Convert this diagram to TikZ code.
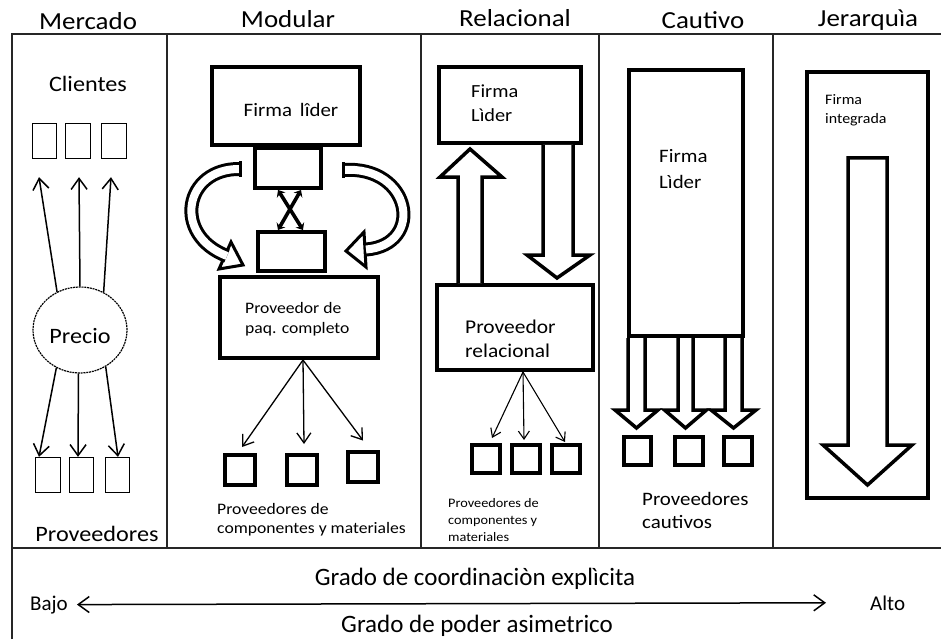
\documentclass[tikz,border=0pt]{standalone}
\usepackage{fontspec}
\setmainfont{Carlito}[FakeStretch=1.1]
\newfontfamily\botfont{Carlito}
\usetikzlibrary{arrows.meta,shapes.geometric}
\tikzset{
  colline/.style={line width=1.4pt, draw=black!85},
  thinbox/.style={draw, line width=1.3pt, inner sep=0pt},
  thickbox/.style={draw, line width=4pt, inner sep=0pt, fill=white},
  blockarrow/.style={draw, line width=3.5pt, fill=white, line join=miter},
  hdr/.style={anchor=base, font=\fontsize{24.5}{28}\selectfont, inner sep=0pt},
  lbl/.style={anchor=base west, inner sep=0pt},
  clbl/.style={anchor=base, inner sep=0pt},
  merarrow/.style={line width=1.5pt, -{Straight Barb[length=11pt,width=16pt]}},
  modarrow/.style={line width=1.3pt, -{Straight Barb[length=10pt,width=14pt]}},
  relarrow/.style={line width=1.1pt, -{Straight Barb[length=8pt,width=11pt]}},
  crossarrow/.style={line width=3.6pt, {Stealth[length=6pt,width=10pt]}-{Stealth[length=6pt,width=10pt]}},
  curveband/.style={line width=3pt, double=white, double distance=8pt},
  headtri/.style={draw, line width=3pt, fill=white, line join=miter},
  pics/blockdown/.style n args={4}{code={
    \draw[blockarrow] (-#1,0) -- (-#1,#3) -- (-#2,#3) -- (0,#4) -- (#2,#3) -- (#1,#3) -- (#1,0);}},
}
\begin{document}
\begin{tikzpicture}[x=1pt,y=-1pt]
\useasboundingbox (0,0) rectangle (941,639);
\fill[white] (0,0) rectangle (941,639);

% frame and columns
\draw[colline] (12,639) -- (12,34) -- (941,34);
\draw[colline] (12,548) -- (941,548);
\foreach \xx in {167,421,599,773} \draw[colline] (\xx,34) -- (\xx,548);

% headers
\node[hdr] (hMer) at (88,30) {Mercado};
\node[hdr] (hMod) at (288,28) {Modular};
\node[hdr] (hRel) at (515,27) {Relacional};
\node[hdr] (hCau) at (703,29) {Cautivo};
\node[hdr] (hJer) at (868,27) {Jerarquìa};

% ---------- Mercado ----------
\node[clbl, font=\fontsize{22}{26}\selectfont] (cli) at (88,92) {Clientes};
\node[thinbox, minimum width=24pt, minimum height=35pt] (ct1) at (44.5,141) {};
\node[thinbox, minimum width=25pt, minimum height=35pt] (ct2) at (78,141) {};
\node[thinbox, minimum width=25pt, minimum height=35pt] (ct3) at (114,141) {};
\node[draw, ellipse, line width=1.2pt, dash pattern=on 2pt off 0.8pt, minimum width=94pt, minimum height=86pt, inner sep=0pt] (precio) at (80,330) {};
\node[clbl, font=\fontsize{22}{26}\selectfont] (preciot) at (80,343) {Precio};
\node[thinbox, minimum width=25pt, minimum height=35pt] (pb1) at (48,475) {};
\node[thinbox, minimum width=24pt, minimum height=35pt] (pb2) at (81.5,475) {};
\node[thinbox, minimum width=24pt, minimum height=35pt] (pb3) at (117.5,475) {};
\node[clbl, font=\fontsize{22}{26}\selectfont] (prov) at (97,541) {Proveedores};
\draw[merarrow] (precio.121) -- ([xshift=-5.5pt,yshift=-18pt]ct1.south);
\draw[merarrow] (precio.north) -- ([xshift=1pt,yshift=-18pt]ct2.south);
\draw[merarrow] (precio.58) -- ([xshift=-3pt,yshift=-18pt]ct3.south);
\draw[merarrow] (precio.-122) -- ([xshift=-9pt]pb1.north);
\draw[merarrow] (precio.-92) -- ([xshift=-3.5pt]pb2.north);
\draw[merarrow] (precio.-55) -- ([xshift=0.5pt]pb3.north);

% ---------- Modular ----------
\draw[headtri] (231,242) -- (243,265) -- (219,269) -- cycle;
\draw[curveband] (240,169) .. controls (184,168) and (172,235) .. (227,256);
\draw[line width=3pt] (240,161.5) -- (240,176.5);
\draw[headtri] (364,232) -- (346,251) -- (366,267) -- cycle;
\draw[curveband] (343,170) .. controls (412,165) and (425,245) .. (366,249.5);
\draw[line width=3pt] (343,162.5) -- (343,177.5);

\node[thickbox, minimum width=66pt, minimum height=40pt] (ubox) at (288,168) {};
\node[thickbox, minimum width=67pt, minimum height=39pt] (lbox) at (291.5,251) {};
\node[thickbox, minimum width=148pt, minimum height=78pt] (firmaM) at (286,106) {};
\node[clbl, font=\fontsize{19}{23}\selectfont] (firmaMt) at (291,117) {Firma\, lîder};
\node[thickbox, minimum width=158pt, minimum height=81pt] (provM) at (299,317.5) {};
\node[lbl, font=\fontsize{16}{20}\selectfont] (provMa) at (245,313) {Proveedor de};
\node[lbl, font=\fontsize{16}{20}\selectfont] (provMb) at (245,333) {paq. completo};
\coordinate (xa) at (278,190);
\coordinate (xb) at (303,230);
\coordinate (xc) at (301,190);
\coordinate (xd) at (278,230);
\draw[crossarrow] (xa) -- (xb);
\draw[crossarrow] (xc) -- (xd);

\node[thickbox, minimum width=30pt, minimum height=30pt] (mb1) at (240,470) {};
\node[thickbox, minimum width=30pt, minimum height=30pt] (mb2) at (301.5,470) {};
\node[thickbox, minimum width=30pt, minimum height=30pt] (mb3) at (362.5,466.5) {};
\draw[modarrow] ([xshift=4pt]provM.south) -- ([xshift=2pt,yshift=6pt]mb1.north);
\draw[modarrow] ([xshift=4pt]provM.south) -- ([xshift=2.5pt,yshift=9pt]mb2.north);
\draw[modarrow] ([xshift=4pt]provM.south) -- ([xshift=0.5pt,yshift=9pt]mb3.north);
\node[lbl, font=\fontsize{16}{20}\selectfont] (mcomp1) at (217,514) {Proveedores de};
\node[lbl, font=\fontsize{16}{20}\selectfont] (mcomp2) at (217,533) {componentes y materiales};

% ---------- Relacional ----------
\node[thickbox, minimum width=142pt, minimum height=76pt] (firmaR) at (510,105) {};
\node[lbl, font=\fontsize{18.5}{22}\selectfont] (firmaRa) at (471,98) {Firma};
\node[lbl, font=\fontsize{18.5}{22}\selectfont] (firmaRb) at (471,122) {Lìder};
\node[thickbox, minimum width=156pt, minimum height=85pt] (provR) at (515,327.5) {};
\node[lbl, font=\fontsize{19.5}{23}\selectfont] (provRa) at (465,333) {Proveedor};
\node[lbl, font=\fontsize{19.5}{23}\selectfont] (provRb) at (465,357) {relacional};
\draw[blockarrow] ([xshift=-57pt]provR.north) -- ++(0,-106) -- ++(-18,0) -- ++(30,-28) -- ++(32,28) -- ++(-20,0) -- ++(0,106);
\draw[blockarrow] ([xshift=33pt]firmaR.south) -- ++(0,110) -- ++(-16,0) -- ++(30,23) -- ++(33,-23) -- ++(-17,0) -- ++(0,-110);
\node[thickbox, minimum width=28pt, minimum height=28pt] (rb1) at (486,459) {};
\node[thickbox, minimum width=28pt, minimum height=28pt] (rb2) at (526,459) {};
\node[thickbox, minimum width=28pt, minimum height=28pt] (rb3) at (566,459) {};
\draw[relarrow] ([xshift=8pt]provR.south) -- ([xshift=6pt,yshift=5pt]rb1.north);
\draw[relarrow] ([xshift=8pt]provR.south) -- ([xshift=-2pt,yshift=3pt]rb2.north);
\draw[relarrow] ([xshift=8pt]provR.south) -- ([xshift=-1pt,yshift=1pt]rb3.north);
\node[lbl, font=\fontsize{13}{16}\selectfont] (rcomp1) at (448,507) {Proveedores de};
\node[lbl, font=\fontsize{13}{16}\selectfont] (rcomp2) at (448,524) {componentes y};
\node[lbl, font=\fontsize{13}{16}\selectfont] (rcomp3) at (448,541) {materiales};

% ---------- Cautivo ----------
\node[thickbox, minimum width=114pt, minimum height=266pt] (firmaC) at (686,203) {};
\node[lbl, font=\fontsize{19}{23}\selectfont] (firmaCa) at (659,163) {Firma};
\node[lbl, font=\fontsize{19}{23}\selectfont] (firmaCb) at (659,188) {Lìder};
\pic at (636.5,338) {blockdown={8.5}{21.5}{72}{90}};
\pic at (685.5,338) {blockdown={7.5}{21}{72}{90}};
\pic at (733.5,338) {blockdown={8.5}{22.5}{72}{90}};
\node[thickbox, minimum width=27pt, minimum height=28pt] (cb1) at (637.5,451) {};
\node[thickbox, minimum width=28pt, minimum height=28pt] (cb2) at (689,451) {};
\node[thickbox, minimum width=28pt, minimum height=28pt] (cb3) at (738,451) {};
\node[lbl, font=\fontsize{19}{23}\selectfont] (cauta) at (642,505) {Proveedores};
\node[lbl, font=\fontsize{19}{23}\selectfont] (cautb) at (642,528) {cautivos};

% ---------- Jerarquia ----------
\node[thickbox, minimum width=121pt, minimum height=426pt] (firmaJ) at (867.5,285) {};
\node[lbl, font=\fontsize{14.5}{18}\selectfont] (firmaJa) at (825,105) {Firma};
\node[lbl, font=\fontsize{14.5}{18}\selectfont] (firmaJb) at (825,124) {integrada};
\draw[blockarrow] (848,158) -- (848,445) -- (823,445) -- (867.5,485) -- (912,445) -- (887,445) -- (887,158) -- cycle;

% ---------- bottom ----------
\node[clbl, font=\botfont\fontsize{25}{30}\selectfont] (coord) at (475,585) {Grado de coordinaciòn explìcita};
\node[clbl, font=\botfont\fontsize{25}{30}\selectfont] (poder) at (477,632) {Grado de poder asimetrico};
\node[lbl, font=\botfont\fontsize{21}{25}\selectfont] (bajo) at (30,610) {Bajo};
\node[lbl, font=\botfont\fontsize{21}{25}\selectfont] (alto) at (870,610) {Alto};
\draw[line width=1.5pt, {Straight Barb[length=11pt,width=16pt]}-{Straight Barb[length=11pt,width=16pt]}] ([xshift=9pt]bajo.east) -- ([xshift=-44pt]alto.west);
\end{tikzpicture}
\end{document}
